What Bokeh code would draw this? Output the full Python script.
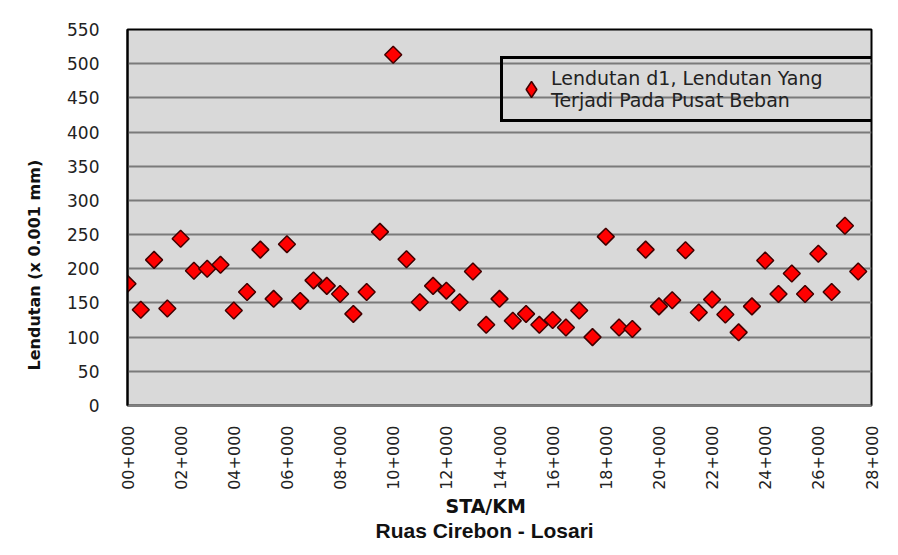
from bokeh.plotting import figure
from bokeh.models import ColumnDataSource, FixedTicker, Legend, LegendItem, Title, Range1d
from bokeh.embed import file_html
from bokeh.resources import INLINE

# Station positions (km) and deflection d1 (x 0.001 mm)
km = [0.0, 0.5, 1.0, 1.5, 2.0, 2.5, 3.0, 3.5, 4.0, 4.5, 5.0, 5.5, 6.0, 6.5,
      7.0, 7.5, 8.0, 8.5, 9.0, 9.5, 10.0, 10.5, 11.0, 11.5, 12.0, 12.5, 13.0, 13.5,
      14.0, 14.5, 15.0, 15.5, 16.0, 16.5, 17.0, 17.5, 18.0, 18.5, 19.0, 19.5, 20.0, 20.5,
      21.0, 21.5, 22.0, 22.5, 23.0, 23.5, 24.0, 24.5, 25.0, 25.5, 26.0, 26.5, 27.0, 27.5]
d1 = [178, 140, 213, 142, 244, 197, 200, 206, 139, 166, 228, 156, 236, 153,
      183, 175, 163, 134, 166, 254, 513, 214, 151, 175, 168, 151, 196, 118,
      156, 124, 134, 118, 125, 114, 139, 100, 247, 114, 112, 228, 145, 154,
      227, 136, 155, 133, 107, 145, 212, 163, 193, 163, 222, 166, 263, 196]

x_ticks = [0, 2, 4, 6, 8, 10, 12, 14, 16, 18, 20, 22, 24, 26, 28]
x_tick_labels = ["00+000", "02+000", "04+000", "06+000", "08+000", "10+000", "12+000",
                 "14+000", "16+000", "18+000", "20+000", "22+000", "24+000", "26+000", "28+000"]
y_ticks = [0, 50, 100, 150, 200, 250, 300, 350, 400, 450, 500, 550]

legend_label = "Lendutan d1, Lendutan Yang\nTerjadi Pada Pusat Beban"
x_title = "STA/KM"
x_subtitle = "Ruas Cirebon - Losari"
y_title = "Lendutan (x 0.001 mm)"

src = ColumnDataSource(dict(km=km, d1=d1))

p = figure(width=898, height=555, x_range=Range1d(0, 28), y_range=Range1d(0, 550),
           output_backend="svg", toolbar_location=None,
           min_border_left=127, min_border_right=27, min_border_top=29, min_border_bottom=150,
           background_fill_color="#d9d9d9", border_fill_color="white")

p.outline_line_color = "black"
p.outline_line_width = 2

FONT = "DejaVu Sans"

# y axis
p.yaxis.ticker = FixedTicker(ticks=y_ticks)
p.yaxis.major_label_text_font = FONT
p.yaxis.major_label_text_font_size = "17px"
p.yaxis.major_label_text_color = "#222222"
p.yaxis.major_label_standoff = 22
p.yaxis.major_tick_line_color = None
p.yaxis.minor_tick_line_color = None
p.yaxis.axis_line_color = "black"
p.yaxis.axis_line_width = 2

# x axis
p.xaxis.ticker = FixedTicker(ticks=x_ticks)
p.xaxis.major_label_overrides = {t: l for t, l in zip(x_ticks, x_tick_labels)}
p.xaxis.major_label_orientation = 1.5708
p.xaxis.major_label_text_font = FONT
p.xaxis.major_label_text_font_size = "16px"
p.xaxis.major_label_text_color = "#222222"
p.xaxis.major_label_standoff = 14
p.xaxis.major_tick_line_color = None
p.xaxis.minor_tick_line_color = None
p.xaxis.axis_line_color = "#808080"
p.xaxis.axis_line_width = 2

p.xgrid.visible = False
p.ygrid.grid_line_color = "#7a7a7a"
p.ygrid.grid_line_width = 1.8

r = p.scatter(x="km", y="d1", source=src, marker="square", angle=0.785398, size=12,
              fill_color="#ff0000", line_color="#400000", line_width=1.5)

# legend swatch: a diamond marker (legend swatches ignore marker angle);
# its single point has no position, so nothing is drawn inside the plot
swatch_src = ColumnDataSource(dict(km=[float("nan")], d1=[float("nan")]))
swatch = p.scatter(x="km", y="d1", source=swatch_src, marker="diamond", size=18,
                   fill_color="#ff0000", line_color="#400000", line_width=1.5)

legend = Legend(items=[LegendItem(label=legend_label, renderers=[swatch])],
                location=(373, 283), padding=8, margin=0, glyph_width=40, glyph_height=40,
                label_standoff=0, label_width=312, label_text_line_height=1.75,
                border_line_color="black", border_line_width=3, border_line_alpha=1.0,
                background_fill_alpha=0, label_text_font=FONT, label_text_font_size="19px",
                label_text_color="#222222")
p.add_layout(legend)

p.add_layout(Title(text=x_title, align="left", offset=318, standoff=0,
                   text_font=FONT, text_font_size="19px", text_font_style="bold",
                   text_color="#111111"), "below")
p.add_layout(Title(text=x_subtitle, align="left", offset=248, standoff=0,
                   text_font="Liberation Sans", text_font_size="21px", text_font_style="bold",
                   text_color="#111111"), "below")
p.add_layout(Title(text=y_title, align="left", offset=35, standoff=42, text_font=FONT,
                   text_font_size="16px", text_font_style="bold", text_color="#111111"), "left")

open("out.html", "w").write(file_html(p, INLINE))
